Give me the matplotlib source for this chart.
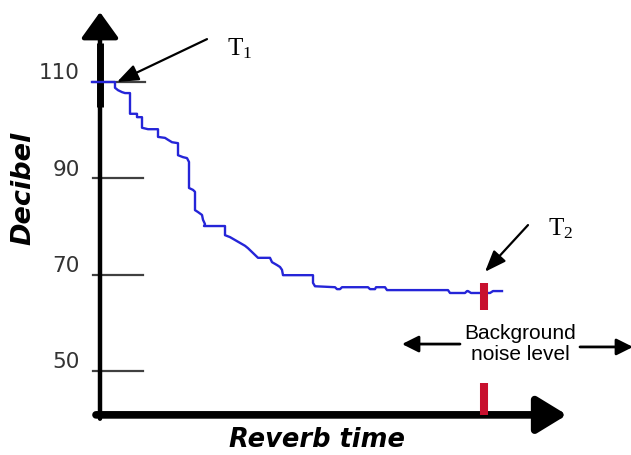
import matplotlib.pyplot as plt

plt.rcParams['mathtext.fontset'] = 'custom'
plt.rcParams['mathtext.rm'] = 'Liberation Serif'
plt.rcParams['mathtext.it'] = 'Liberation Serif:italic'

# decay curve (time in arbitrary units, level in dB)
time = [-8, 15, 15, 18, 22, 25, 30, 30, 37, 37, 42, 42, 48, 58, 58, 65, 68, 72, 78,
        78, 83, 87, 89, 89, 93, 95, 95, 98, 102, 103, 105, 104, 125, 125, 130, 135,
        140, 145, 148, 152, 155, 158, 170, 172, 177, 180, 182, 183, 213, 213, 215,
        235, 237, 240, 242, 268, 270, 275, 276, 285, 287, 348, 350, 365, 367, 368,
        371, 390, 393, 402]
level = [110.0, 110.0, 108.8, 108.3, 107.9, 107.7, 107.7, 103.4, 103.4, 102.7, 102.7,
         100.5, 100.2, 100.2, 98.6, 98.4, 98.0, 97.5, 97.3, 94.8, 94.4, 94.2, 93.4,
         88.0, 87.6, 87.2, 83.4, 83.0, 82.4, 81.4, 80.5, 80.1, 80.1, 78.2, 77.8, 77.2,
         76.6, 76.0, 75.5, 74.7, 74.1, 73.5, 73.5, 72.6, 72.0, 71.6, 71.0, 69.9, 69.9,
         68.3, 67.6, 67.4, 67.0, 67.0, 67.4, 67.4, 67.0, 67.0, 67.4, 67.4, 66.8, 66.8,
         66.2, 66.2, 66.6, 66.6, 66.2, 66.2, 66.6, 66.6]

ticks = [110, 90, 70, 50]
tick_labels = ['110', '90', '70', '50']

t2_time = 384
t2_upper = [68.3, 62.7]
t2_lower = [47.5, 40.9]

fig = plt.figure(figsize=(6.31, 4.55), dpi=100)
ax = fig.add_axes([0, 0, 1, 1])
ax.set_xlim(-100, 531)
ax.set_ylim(32.57, 127.02)
ax.axis('off')

floor = 40.9

# hand drawn style axes with arrow heads
ax.annotate('', xy=(0, 124.5), xytext=(0, floor - 0.8),
            arrowprops=dict(arrowstyle='-|>,head_length=1.6,head_width=1.15',
                            lw=3.2, color='black', shrinkA=0, shrinkB=0))
ax.plot([0, 0], [104.8, 118.0], color='black', lw=5, solid_capstyle='butt')
ax.annotate('', xy=(467, floor), xytext=(-4, floor),
            arrowprops=dict(arrowstyle='-|>,head_length=1.8,head_width=1.1',
                            lw=5.5, color='black', shrinkA=0, shrinkB=0))

# tick marks + labels
for v, lab in zip(ticks, tick_labels):
    right = 45 if v == 110 else 43
    ax.plot([-7, right], [v, v], color='#404040', lw=1.6, zorder=2)
    ax.text(-20, v + 1.8, lab, ha='right', va='center', fontsize=15.5,
            color='#333333', family='DejaVu Sans')

# the decay curve
ax.plot(time, level, color='#2525d8', lw=1.7, zorder=4)

# T2 marker (broken by the label)
ax.plot([t2_time, t2_time], t2_upper, color='#c8102e', lw=5.8, solid_capstyle='butt', zorder=5)
ax.plot([t2_time, t2_time], t2_lower, color='#c8102e', lw=5.8, solid_capstyle='butt', zorder=5)

# T1 / T2 annotations
ax.annotate('', xy=(17, 110), xytext=(107, 118.9),
            arrowprops=dict(arrowstyle='-|>,head_length=1.3,head_width=0.5',
                            lw=1.6, color='black', shrinkA=0, shrinkB=0), zorder=6)
ax.text(127, 115.6, r'$\mathrm{T}_1$', fontsize=18, ha='left', va='baseline')
ax.annotate('', xy=(385, 70.6), xytext=(428, 80.3),
            arrowprops=dict(arrowstyle='-|>,head_length=1.3,head_width=0.5',
                            lw=1.6, color='black', shrinkA=0, shrinkB=0), zorder=6)
ax.text(448, 78.2, r'$\mathrm{T}_2$', fontsize=18, ha='left', va='baseline')

# background noise note
ax.text(420, 55.6, 'Background\nnoise level', ha='center', va='center',
        fontsize=15, family='Liberation Sans', linespacing=1.15)
ax.annotate('', xy=(302, 55.6), xytext=(360, 55.6),
            arrowprops=dict(arrowstyle='-|>,head_length=1.0,head_width=0.5',
                            lw=2, color='black', shrinkA=0, shrinkB=0))
ax.annotate('', xy=(533, 55.0), xytext=(480, 55.0), annotation_clip=False,
            arrowprops=dict(arrowstyle='-|>,head_length=1.0,head_width=0.5',
                            lw=2, color='black', shrinkA=0, shrinkB=0))

# axis titles
ax.text(-77, 88.0, 'Decibel', rotation=90, ha='center', va='center',
        fontsize=19.5, fontweight='bold', fontstyle='italic', family='DejaVu Sans')
ax.text(217, 34.2, 'Reverb time', ha='center', va='baseline',
        fontsize=18.5, fontweight='bold', fontstyle='italic', family='DejaVu Sans')

fig.savefig('out.png', dpi=100)
